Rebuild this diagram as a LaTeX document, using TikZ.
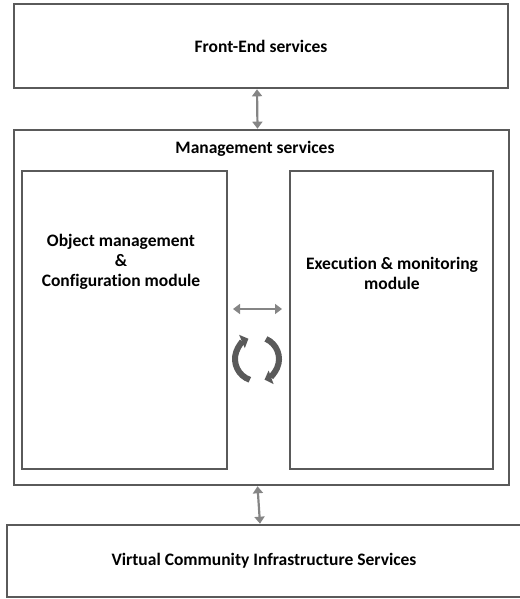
\documentclass[tikz,border=0pt]{standalone}
\usepackage{fontspec}
\setmainfont{Carlito}[Ligatures=NoCommon]
\usetikzlibrary{arrows.meta}
\definecolor{boxgray}{HTML}{5A5A5A}
\definecolor{arrgray}{HTML}{858585}
\tikzset{
  box/.style={draw=boxgray, line width=2.6pt, inner sep=0pt, align=center, font=\bfseries\fontsize{17.5}{20}\selectfont},
  lbl/.style={inner sep=0pt, align=center, font=\bfseries\fontsize{17.5}{20}\selectfont},
  conn/.style={draw=arrgray, line width=2.2pt, {Triangle[width=10pt,length=7pt]}-{Triangle[width=10pt,length=7pt]}},
  cycle/.style={draw=boxgray, line width=6pt, -{Triangle[width=14pt,length=7pt]}}
}
\begin{document}
\begin{tikzpicture}[x=1pt,y=1pt]
\useasboundingbox (0,0) rectangle (519,599);
\node[box, minimum width=494pt, minimum height=84pt] at (261,553) (front) {Front-End services};
\node[box, minimum width=495pt, minimum height=355pt] at (261.5,291.5) (mgmt) {};
\node[lbl] at (255,450) (mgmttitle) {Management services};
%modules
\node[box, minimum width=205pt, minimum height=298pt] at (124.5,279) (objmod) {};
\node[lbl] at (121,337) (objtext) {Object management\\\&\\Configuration module};
\node[box, minimum width=203pt, minimum height=298pt] at (391.5,279) (execmod) {};
\node[lbl] at (392,326) (exectext) {Execution \& monitoring\\module};
\node[box, minimum width=514pt, minimum height=72pt] at (264,38) (vci) {Virtual Community Infrastructure Services};
%links
\draw[conn] ([xshift=-4pt]front.south) -- ([xshift=-4pt]mgmt.north);
\draw[conn] ([xshift=-4pt]mgmt.south) -- ([xshift=-4pt]vci.north);
\coordinate (hl) at (233,290); \coordinate (hr) at (282,290);
\draw[conn] (hl) -- (hr);
%cycle
\coordinate (cc) at (257,240);
\draw[cycle] ([shift={(251:22pt)}]cc) arc[start angle=251, end angle=113, radius=22pt];
\draw[cycle] ([shift={(66:22pt)}]cc) arc[start angle=66, end angle=-70, radius=22pt];
\end{tikzpicture}
\end{document}
